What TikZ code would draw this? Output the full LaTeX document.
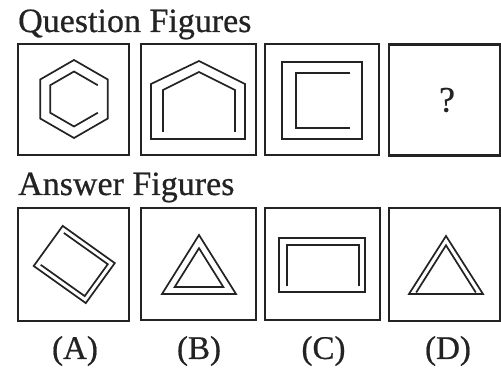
\documentclass[tikz,border=0pt]{standalone}
\usepackage{fontspec}
\setmainfont{Liberation Serif}
\newfontfamily\headfont{Liberation Serif}[RawFeature={embolden=0.6}]
\definecolor{ink}{RGB}{35,35,35}
\begin{document}
\begin{tikzpicture}[x=1pt,y=-1pt,
  box/.style={draw=ink,line width=2.1pt,minimum width=#1,minimum height=111pt,inner sep=0pt},
  box/.default=111pt,
  fig/.style={draw=ink,line width=1.7pt,line join=miter},
  head/.style={font=\headfont\fontsize{34}{40}\selectfont,text=ink,anchor=base west,inner sep=0pt},
  lab/.style={font=\headfont\fontsize{33}{40}\selectfont,text=ink,inner sep=0pt}]
\useasboundingbox (0,0) rectangle (501,390);
\fill[white] (0,0) rectangle (501,390);
% headings
\node[head] (qt) at (18,32) {Question Figures};
\node[head] (at) at (18,195) {Answer Figures};
% question boxes
\node[box=111pt] (q1) at (73.5,99.5) {};
\node[box=115pt] (q2) at (198.5,99.5) {};
\node[box=114pt] (q3) at (322,99.5) {};
\node[box=111pt] (q4) at (444.5,100) {};
% answer boxes
\node[box=111pt,minimum height=113pt] (a1) at (73.5,264.5) {};
\node[box=115pt,minimum height=112pt] (a2) at (198.5,264) {};
\node[box=115pt,minimum height=112pt] (a3) at (322.5,264) {};
\node[box=111pt,minimum height=113pt] (a4) at (444.5,264.5) {};
% Q1 hexagon
\draw[fig] (74,60) -- (107.8,79.5) -- (107.8,118.5) -- (74,138) -- (40.2,118.5) -- (40.2,79.5) -- cycle;
\draw[fig] (97.8,85.25) -- (74,71.5) -- (50.2,85.25) -- (50.2,112.75) -- (74,126.5) -- (97.8,112.75);
% Q2 pentagon
\draw[fig] (199,61) -- (245,84) -- (245,139) -- (151,139) -- (151,84) -- cycle;
\draw[fig] (163,132) -- (163,90) -- (199,72) -- (235,90) -- (235,132);
% Q3 squares
\draw[fig] (282,62) rectangle (362,139);
\draw[fig] (350,73) -- (296,73) -- (296,128) -- (350,128);
% Q4 question mark
\node[font=\headfont\fontsize{36}{40}\selectfont,text=ink,inner sep=0pt] (qm) at (447,100) {?};
% A rotated rectangle
\draw[fig] (62.7,225.9) -- (114.8,263.1) -- (85.8,303.1) -- (33.7,266.0) -- cycle;
\draw[fig] (63.8,232.9) -- (107.8,264.2) -- (84.7,296.1) -- (40.7,264.8);
% B triangle
\draw[fig] (199,235) -- (236,294) -- (162,294) -- cycle;
\draw[fig] (199,248.2) -- (223.3,287) -- (174.7,287) -- cycle;
% C rectangle
\draw[fig] (279,238) rectangle (365,292);
\draw[fig] (287,286) -- (287,245) -- (359,245) -- (359,286);
% D triangle
\draw[fig] (446,236) -- (483,294) -- (409,294) -- cycle;
\draw[fig] (416.2,292.5) -- (446,245.3) -- (475.8,292.5);
% labels
\node[lab] (la) at (75,351) {(A)};
\node[lab] (lb) at (199,351) {(B)};
\node[lab] (lc) at (323.5,351) {(C)};
\node[lab] (ld) at (448,351) {(D)};
\end{tikzpicture}
\end{document}
